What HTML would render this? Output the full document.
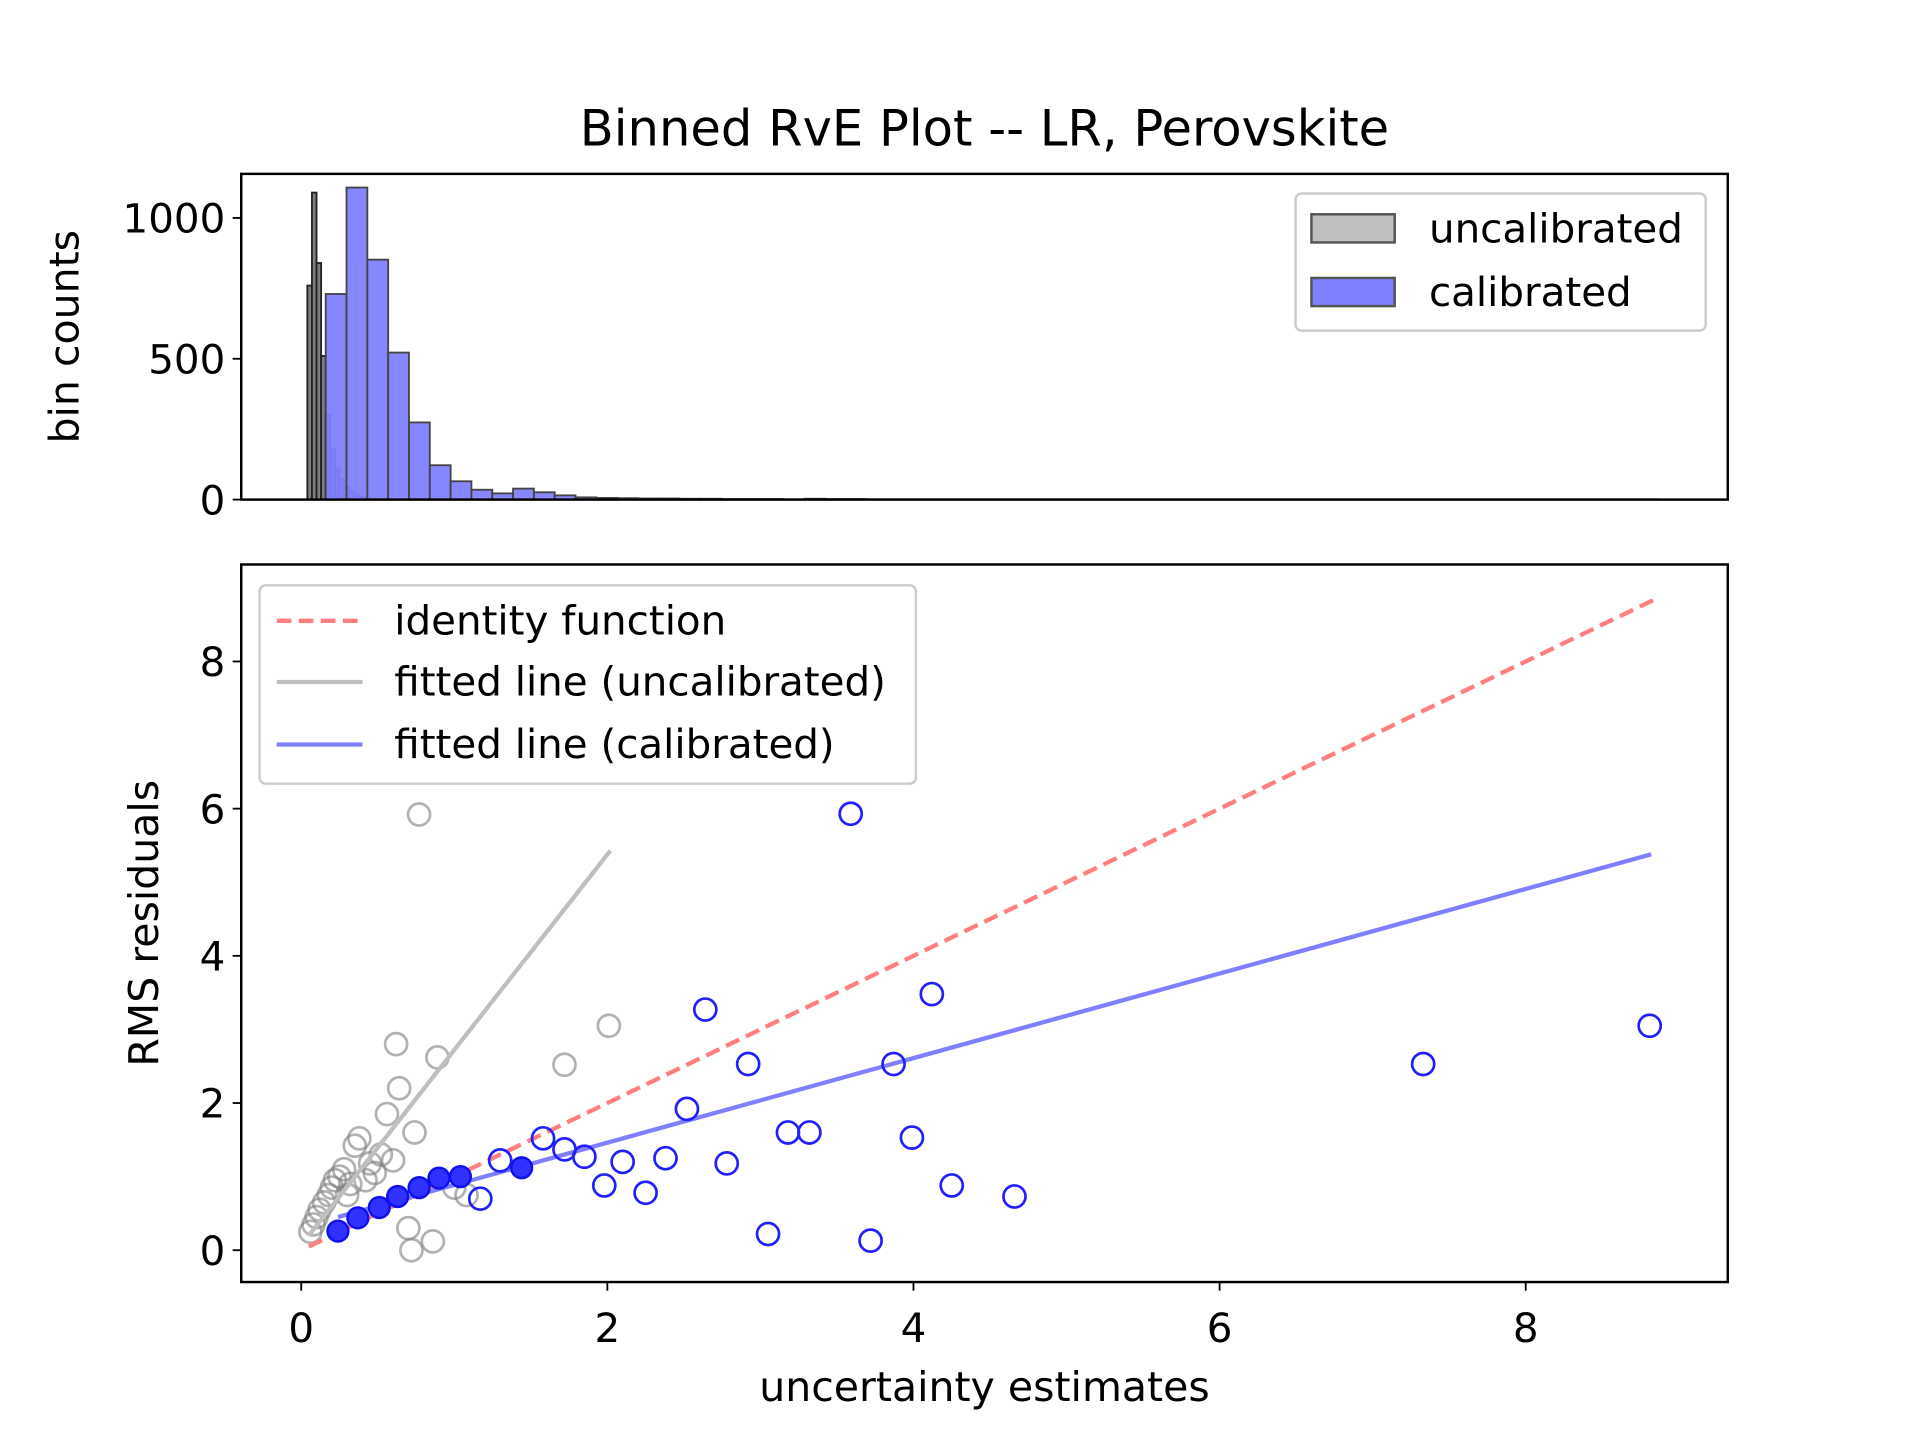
<!DOCTYPE html>
<html><head><meta charset="utf-8"><style>
html,body{margin:0;padding:0;background:#fff;}
svg{display:block;font-family:"DejaVu Sans","Liberation Sans",sans-serif;}
</style></head><body>
<svg id="chart" width="1920" height="1440" viewBox="0 0 1568 1176" xmlns="http://www.w3.org/2000/svg">
<rect width="1568" height="1176" fill="#fff"/>
<text x="804" y="119" font-size="40.5" text-anchor="middle">Binned RvE Plot -- LR, Perovskite</text>
<g id="gTop"></g>
<g id="gBot"></g>
<rect x="197" y="142" width="1214" height="266" fill="none" stroke="#000" stroke-width="2"/>
<rect x="197" y="461" width="1214" height="586" fill="none" stroke="#000" stroke-width="2"/>
<text transform="translate(64,275) rotate(-90)" font-size="33.5" text-anchor="middle">bin counts</text>
<text transform="translate(129,754) rotate(-90)" font-size="33.5" text-anchor="middle">RMS residuals</text>
<text x="804" y="1144" font-size="33.5" text-anchor="middle">uncertainty estimates</text>
<g>
<rect x="1058" y="158" width="335" height="112" rx="5" fill="#fff" stroke="#ccc" stroke-width="2"/>
<rect x="1071" y="175" width="68" height="23" fill="#bfbfbf" stroke="#555" stroke-width="2"/>
<text x="1167" y="198" font-size="33">uncalibrated</text>
<rect x="1071" y="227" width="68" height="23" fill="#7f7fff" stroke="#555" stroke-width="2"/>
<text x="1167" y="250" font-size="33">calibrated</text>
</g>
<g>
<rect x="212" y="478" width="536" height="162" rx="5" fill="#fff" stroke="#ccc" stroke-width="2"/>
<line x1="226" y1="507" x2="296" y2="507" stroke="#ff7f7f" stroke-width="3.5" stroke-dasharray="12,6"/>
<text x="322" y="518" font-size="33">identity function</text>
<line x1="226" y1="557" x2="296" y2="557" stroke="#bfbfbf" stroke-width="3.5"/>
<text x="322" y="568" font-size="33">fitted line (uncalibrated)</text>
<line x1="226" y1="608" x2="296" y2="608" stroke="#7f7fff" stroke-width="3.5"/>
<text x="322" y="619" font-size="33">fitted line (calibrated)</text>
</g>
</svg>
<script>
const calHist = [730,1108,852,522,274,122,65,35,22,39,26,15,8,6,5,4,4,3,3,2,2,2,1,3,2,2,1,1,1,1,1,1,1,1,1,1,1,1,1,1,1,1,1,1,1,1,1,1,1,1,1,1,1,1,1,1,1,1,1,1,1,1,1,1];
const calStart = 0.16, calWidth = 0.136;
const uncHist = [760,1090,840,510,300,180,110,70,45,30,20,12,8,5,3];
const uncStart = 0.04, uncWidth = 0.03;
const yTicksTop = [0,500,1000];
const yTicksBot = [0,2,4,6,8];
const xTicks = [0,2,4,6,8];
const uncX = [0.77,0.62,0.89,0.64,0.56,0.74,0.38,0.35,0.52,0.6,0.45,0.28,0.48,0.42,0.32,0.22,0.2,0.18,0.15,0.12,0.1,0.08,0.06,0.25,0.7,0.72,0.86,1.0,1.08,1.72,2.01,0.3];
const uncY = [5.92,2.8,2.62,2.2,1.85,1.6,1.52,1.42,1.3,1.22,1.18,1.1,1.05,0.95,0.9,0.95,0.85,0.75,0.65,0.55,0.45,0.35,0.25,1.0,0.3,0.0,0.12,0.85,0.75,2.52,3.05,0.75];
const calX = [3.59,2.64,4.12,2.92,3.87,2.52,1.58,1.72,1.85,1.3,2.1,2.38,2.78,3.18,3.32,3.99,1.98,2.25,4.25,4.66,1.17,3.05,3.72,7.33,8.81];
const calY = [5.93,3.27,3.48,2.53,2.53,1.92,1.52,1.37,1.27,1.22,1.2,1.25,1.18,1.6,1.6,1.53,0.88,0.78,0.88,0.73,0.7,0.22,0.13,2.53,3.05];
const filledX = [0.24,0.37,0.51,0.63,0.77,0.9,1.04,1.44];
const filledY = [0.26,0.44,0.58,0.73,0.85,0.98,1.0,1.12];
const identityLine = [0.05,8.85];
const uncFit = [0.05,0.2,2.02,5.43];
const calFit = [0.24,0.45,8.82,5.38];

const NS="http://www.w3.org/2000/svg";
const X=v=>246+125*v;
const YT=v=>408-0.23*v;
const YB=v=>1021-60.1*v;
function mk(tag,attrs,parent){const e=document.createElementNS(NS,tag);for(const k in attrs)e.setAttribute(k,attrs[k]);parent.appendChild(e);return e;}
const gTop=document.getElementById('gTop'), gBot=document.getElementById('gBot');
uncHist.forEach((c,i)=>{const x0=X(uncStart+i*uncWidth),x1=X(uncStart+(i+1)*uncWidth);
 const r=mk('rect',{x:x0,y:YT(c),width:x1-x0,height:YT(0)-YT(c),fill:'#7f7f7f',stroke:'#222','stroke-width':1.5},gTop);
 
 });
calHist.forEach((c,i)=>{const x0=X(calStart+i*calWidth),x1=X(calStart+(i+1)*calWidth);
 const r=mk('rect',{x:x0,y:YT(c),width:x1-x0,height:YT(0)-YT(c),fill:'#7f7fff','fill-opacity':0.95,stroke:'#444','stroke-width':1.5},gTop);
 
 });
yTicksTop.forEach(t=>{const y=YT(t);mk('line',{x1:190,x2:197,y1:y,y2:y,stroke:'#000','stroke-width':1.5},gTop);
 const tx=mk('text',{x:184,y:y+12,'font-size':33,'text-anchor':'end'},gTop);tx.textContent=t;
 
 });
yTicksBot.forEach(t=>{const y=YB(t);mk('line',{x1:190,x2:197,y1:y,y2:y,stroke:'#000','stroke-width':1.5},gBot);
 const tx=mk('text',{x:184,y:y+12,'font-size':33,'text-anchor':'end'},gBot);tx.textContent=t;
 
 });
xTicks.forEach(t=>{const x=X(t);mk('line',{x1:x,x2:x,y1:1047,y2:1054,stroke:'#000','stroke-width':1.5},gBot);
 const tx=mk('text',{x:x,y:1096,'font-size':33,'text-anchor':'middle'},gBot);tx.textContent=t;
 
 });
uncX.forEach((v,i)=>{const c=mk('circle',{cx:X(v),cy:YB(uncY[i]),r:9,fill:'none',stroke:'#7f7f7f','stroke-opacity':0.6,'stroke-width':2.2},gBot);
 
 });
let l=mk('line',{x1:X(identityLine[0]),y1:YB(identityLine[0]),x2:X(identityLine[1]),y2:YB(identityLine[1]),stroke:'#ff7f7f','stroke-width':3.5,'stroke-dasharray':'12,6'},gBot);


l=mk('line',{x1:X(uncFit[0]),y1:YB(uncFit[1]),x2:X(uncFit[2]),y2:YB(uncFit[3]),stroke:'#bfbfbf','stroke-width':3.5},gBot);


l=mk('line',{x1:X(calFit[0]),y1:YB(calFit[1]),x2:X(calFit[2]),y2:YB(calFit[3]),stroke:'#7f7fff','stroke-width':3.5},gBot);


calX.forEach((v,i)=>{const c=mk('circle',{cx:X(v),cy:YB(calY[i]),r:9,fill:'none',stroke:'#2020ff','stroke-width':2.2},gBot);
 
 });
filledX.forEach((v,i)=>{const c=mk('circle',{cx:X(v),cy:YB(filledY[i]),r:8.5,fill:'#3030ff',stroke:'#1010ee','stroke-width':2},gBot);
 
 });
</script>
</body></html>
